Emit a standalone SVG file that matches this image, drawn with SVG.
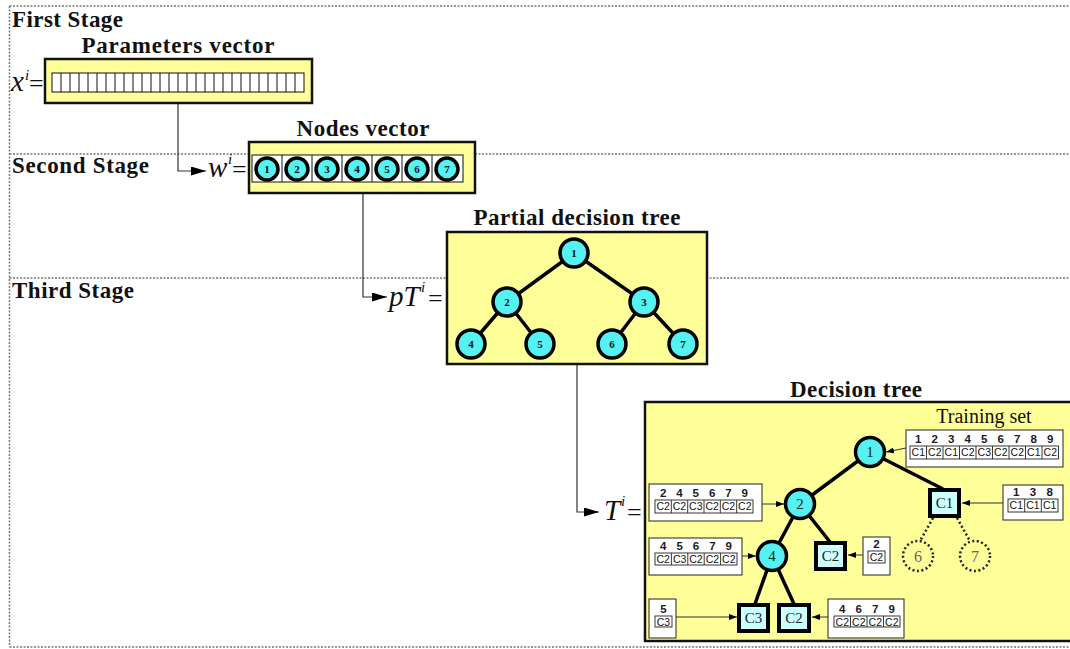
<svg xmlns="http://www.w3.org/2000/svg" width="1070" height="649" viewBox="0 0 1070 649">
  <style>
    .stage { font-family: "Liberation Serif", "Times New Roman", serif; font-weight: bold; font-size: 23px; fill: #111; }
    .title { font-family: "Liberation Serif", "Times New Roman", serif; font-weight: bold; font-size: 23px; fill: #111; text-anchor: middle; }
    .math { font-family: "Liberation Serif", "Times New Roman", serif; font-style: italic; font-size: 29px; fill: #111; }
    .eq { font-family: "Liberation Serif", "Times New Roman", serif; font-size: 26px; fill: #111; }
    .sup { font-family: "Liberation Serif", "Times New Roman", serif; font-style: italic; font-size: 15px; fill: #111; }
    .frame { fill: none; stroke: #777; stroke-width: 1.5; stroke-dasharray: 2 1.5; }
    .panel { fill: #FFFF99; stroke: #111; stroke-width: 2.5; }
    .cell { fill: #fff; stroke: #111; stroke-width: 1; }
    .node { fill: #55F2F2; stroke: #000; stroke-width: 3.5; }
    .leaf { fill: #CCFFFF; stroke: #000; stroke-width: 4; }
    .ghost { fill: none; stroke: #222; stroke-width: 2.5; stroke-dasharray: 2 2.5; }
    .nlabel { font-family: "Liberation Serif", "Times New Roman", serif; font-weight: bold; font-size: 11px; fill: #111; text-anchor: middle; }
    .tlabel { font-family: "Liberation Serif", "Times New Roman", serif; font-size: 15px; fill: #222; text-anchor: middle; }
    .glabel { font-family: "Liberation Serif", "Times New Roman", serif; font-size: 16px; fill: #666; text-anchor: middle; }
    .edge { stroke: #000; stroke-width: 3.5; fill: none; }
    .gedge { stroke: #222; stroke-width: 2.5; stroke-dasharray: 2 2.5; fill: none; }
    .conn { stroke: #333; stroke-width: 1.2; fill: none; }
    .feed { stroke: #333; stroke-width: 1; fill: none; }
    .tbl { fill: #fff; stroke: #222; stroke-width: 1; }
    .tcell { fill: #fff; stroke: #222; stroke-width: 0.9; }
    .hdr { font-family: "Liberation Sans", Arial, sans-serif; font-weight: bold; font-size: 11.5px; fill: #1a1a2e; text-anchor: middle; }
    .cls { font-family: "Liberation Sans", Arial, sans-serif; font-size: 10.5px; fill: #111; text-anchor: middle; }
    .caption { font-family: "Liberation Serif", "Times New Roman", serif; font-size: 20px; fill: #111; text-anchor: middle; }
  </style>
  <defs>
    <marker id="bigArrow" viewBox="0 0 15 9" refX="15" refY="4.5" markerWidth="15" markerHeight="9" markerUnits="userSpaceOnUse" orient="auto">
      <path d="M0,0 L15,4.5 L0,9 Z" fill="#000"/>
    </marker>
    <marker id="smallArrow" viewBox="0 0 8 6" refX="8" refY="3" markerWidth="8" markerHeight="6" markerUnits="userSpaceOnUse" orient="auto">
      <path d="M0,0 L8,3 L0,6 Z" fill="#000"/>
    </marker>
  </defs>

  <rect width="1070" height="649" fill="#fff"/>

  <!-- stage frame -->
  <g id="stages">
    <path class="frame" d="M9.5,6 H1072 M9.5,154 H1072 M9.5,278 H1072 M9.5,647 H1072 M9.5,6 V647"/>
    <text class="stage" x="12" y="27" textLength="111">First Stage</text>
    <text class="stage" x="12" y="173" textLength="137">Second Stage</text>
    <text class="stage" x="12" y="298" textLength="122">Third Stage</text>
  </g>

  <!-- connectors between stages -->
  <g id="connectors">
    <path class="conn" d="M178,103 V171 H206" marker-end="url(#bigArrow)"/>
    <path class="conn" d="M363,193 V297 H387" marker-end="url(#bigArrow)"/>
    <path class="conn" d="M577,364 V512 H599" marker-end="url(#bigArrow)"/>
  </g>

  <!-- parameters vector -->
  <g id="parameters-vector">
    <text class="title" x="178" y="53" textLength="193">Parameters vector</text>
    <text class="math" x="11" y="91">x</text>
    <text class="sup" x="25" y="80">i</text>
    <text class="eq" x="29" y="92">=</text>
    <rect class="panel" x="45" y="59" width="267" height="44"/>
    <rect class="cell" x="52" y="73" width="252" height="19"/>
    <path stroke="#111" stroke-width="1" d="M61,73v19M70,73v19M79,73v19M88,73v19M97,73v19M106,73v19M115,73v19M124,73v19M133,73v19M142,73v19M151,73v19M160,73v19M169,73v19M178,73v19M187,73v19M196,73v19M205,73v19M214,73v19M223,73v19M232,73v19M241,73v19M250,73v19M259,73v19M268,73v19M277,73v19M286,73v19M295,73v19"/>
  </g>

  <!-- nodes vector -->
  <g id="nodes-vector">
    <text class="title" x="363" y="136" textLength="133">Nodes vector</text>
    <text class="math" x="208" y="177">w</text>
    <text class="sup" x="228" y="164">i</text>
    <text class="eq" x="232" y="178">=</text>
    <rect class="panel" x="249" y="142" width="226" height="51"/>
    <rect class="cell" x="252" y="155" width="211" height="27"/>
    <path stroke="#111" stroke-width="1" d="M282,155v27M312,155v27M342,155v27M372,155v27M402,155v27M432,155v27"/>
    <circle class="node" cx="267" cy="169" r="11"/>
    <circle class="node" cx="297" cy="169" r="11"/>
    <circle class="node" cx="327" cy="169" r="11"/>
    <circle class="node" cx="357" cy="169" r="11"/>
    <circle class="node" cx="387" cy="169" r="11"/>
    <circle class="node" cx="417" cy="169" r="11"/>
    <circle class="node" cx="447" cy="169" r="11"/>
    <text class="nlabel" x="267" y="173">1</text>
    <text class="nlabel" x="297" y="173">2</text>
    <text class="nlabel" x="327" y="173">3</text>
    <text class="nlabel" x="357" y="173">4</text>
    <text class="nlabel" x="387" y="173">5</text>
    <text class="nlabel" x="417" y="173">6</text>
    <text class="nlabel" x="447" y="173">7</text>
  </g>

  <!-- partial decision tree -->
  <g id="partial-tree">
    <text class="title" x="577" y="225" textLength="207">Partial decision tree</text>
    <text class="math" x="389" y="306">pT</text>
    <text class="sup" x="421" y="292">i</text>
    <text class="eq" x="428" y="307">=</text>
    <rect class="panel" x="447" y="232" width="260" height="132"/>
    <path class="edge" d="M574,253 L507,302 M574,253 L644,302 M507,302 L471,344 M507,302 L540,344 M644,302 L612,344 M644,302 L683,344"/>
    <circle class="node" cx="574" cy="253" r="14"/>
    <circle class="node" cx="507" cy="302" r="14"/>
    <circle class="node" cx="644" cy="302" r="14"/>
    <circle class="node" cx="471" cy="344" r="14"/>
    <circle class="node" cx="540" cy="344" r="14"/>
    <circle class="node" cx="612" cy="344" r="14"/>
    <circle class="node" cx="683" cy="344" r="14"/>
    <text class="nlabel" x="574" y="257">1</text>
    <text class="nlabel" x="507" y="306">2</text>
    <text class="nlabel" x="644" y="306">3</text>
    <text class="nlabel" x="471" y="348">4</text>
    <text class="nlabel" x="540" y="348">5</text>
    <text class="nlabel" x="612" y="348">6</text>
    <text class="nlabel" x="683" y="348">7</text>
  </g>

  <!-- decision tree -->
  <g id="decision-tree">
    <text class="title" x="856" y="397" textLength="132">Decision tree</text>
    <text class="math" x="604" y="520">T</text>
    <text class="sup" x="621" y="506">i</text>
    <text class="eq" x="627" y="521">=</text>
    <rect class="panel" x="645" y="402" width="430" height="239"/>
    <text class="caption" x="984" y="423">Training set</text>

    <!-- tree edges -->
    <path class="edge" d="M870,452 L800,504 M870,452 L943,489 M800,504 L772,556 M800,504 L830,542 M772,556 L755,604 M772,556 L794,604"/>
    <path class="gedge" d="M933,518 L920,541 M957,518 L970,541"/>

    <!-- inner nodes -->
    <g id="dt-node-1"><circle class="node" cx="870" cy="452" r="14.5"/><text class="tlabel" x="870" y="457">1</text></g>
    <g id="dt-node-2"><circle class="node" cx="800" cy="504" r="14.5"/><text class="tlabel" x="800" y="509">2</text></g>
    <g id="dt-node-4"><circle class="node" cx="772" cy="556" r="14.5"/><text class="tlabel" x="772" y="561">4</text></g>

    <!-- leaves -->
    <g id="dt-leaf-3"><rect class="leaf" x="930" y="490" width="29" height="26"/><text class="tlabel" x="944.5" y="508">C1</text></g>
    <g id="dt-leaf-5"><rect class="leaf" x="816" y="543" width="29" height="26"/><text class="tlabel" x="830.5" y="561">C2</text></g>
    <g id="dt-leaf-8"><rect class="leaf" x="739" y="605" width="29" height="26"/><text class="tlabel" x="753.5" y="623">C3</text></g>
    <g id="dt-leaf-9"><rect class="leaf" x="779" y="605" width="30" height="26"/><text class="tlabel" x="794" y="623">C2</text></g>

    <!-- unused nodes -->
    <g id="dt-node-6"><circle class="ghost" cx="918" cy="556" r="15"/><text class="glabel" x="918" y="562">6</text></g>
    <g id="dt-node-7"><circle class="ghost" cx="975" cy="556" r="15"/><text class="glabel" x="975" y="562">7</text></g>

    <!-- data subsets feeding each node -->
    <g id="subset-root">
      <rect class="tbl" x="906" y="430" width="157" height="37"/>
      <path class="feed" d="M906,448 L886,452" marker-end="url(#smallArrow)"/>
      <rect class="tcell" x="910" y="446" width="148.5" height="13"/>
      <path stroke="#222" stroke-width="0.9" d="M926.5,446v13M943,446v13M959.5,446v13M976,446v13M992.5,446v13M1009,446v13M1025.5,446v13M1042,446v13"/>
      <text class="hdr" x="918.3" y="443">1</text><text class="hdr" x="934.8" y="443">2</text><text class="hdr" x="951.3" y="443">3</text>
      <text class="hdr" x="967.8" y="443">4</text><text class="hdr" x="984.3" y="443">5</text><text class="hdr" x="1000.8" y="443">6</text>
      <text class="hdr" x="1017.3" y="443">7</text><text class="hdr" x="1033.8" y="443">8</text><text class="hdr" x="1050.3" y="443">9</text>
      <text class="cls" x="918.3" y="456">C1</text><text class="cls" x="934.8" y="456">C2</text><text class="cls" x="951.3" y="456">C1</text>
      <text class="cls" x="967.8" y="456">C2</text><text class="cls" x="984.3" y="456">C3</text><text class="cls" x="1000.8" y="456">C2</text>
      <text class="cls" x="1017.3" y="456">C2</text><text class="cls" x="1033.8" y="456">C1</text><text class="cls" x="1050.3" y="456">C2</text>
    </g>

    <g id="subset-c1">
      <rect class="tbl" x="1003" y="485" width="60" height="35"/>
      <path class="feed" d="M1003,503 L962,503" marker-end="url(#smallArrow)"/>
      <rect class="tcell" x="1008" y="499" width="50" height="13"/>
      <path stroke="#222" stroke-width="0.9" d="M1024.7,499v13M1041.3,499v13"/>
      <text class="hdr" x="1016.3" y="496">1</text><text class="hdr" x="1033" y="496">3</text><text class="hdr" x="1049.7" y="496">8</text>
      <text class="cls" x="1016.3" y="509">C1</text><text class="cls" x="1033" y="509">C1</text><text class="cls" x="1049.7" y="509">C1</text>
    </g>

    <g id="subset-node-2">
      <rect class="tbl" x="649" y="484" width="113" height="37"/>
      <path class="feed" d="M762,504 L784,504" marker-end="url(#smallArrow)"/>
      <rect class="tcell" x="655" y="500" width="98" height="13"/>
      <path stroke="#222" stroke-width="0.9" d="M671.3,500v13M687.7,500v13M704,500v13M720.3,500v13M736.7,500v13"/>
      <text class="hdr" x="663.2" y="497">2</text><text class="hdr" x="679.5" y="497">4</text><text class="hdr" x="695.8" y="497">5</text>
      <text class="hdr" x="712.2" y="497">6</text><text class="hdr" x="728.5" y="497">7</text><text class="hdr" x="744.8" y="497">9</text>
      <text class="cls" x="663.2" y="510">C2</text><text class="cls" x="679.5" y="510">C2</text><text class="cls" x="695.8" y="510">C3</text>
      <text class="cls" x="712.2" y="510">C2</text><text class="cls" x="728.5" y="510">C2</text><text class="cls" x="744.8" y="510">C2</text>
    </g>

    <g id="subset-node-4">
      <rect class="tbl" x="649" y="538" width="93" height="37"/>
      <path class="feed" d="M742,556 L756,556" marker-end="url(#smallArrow)"/>
      <rect class="tcell" x="655" y="553" width="82" height="12"/>
      <path stroke="#222" stroke-width="0.9" d="M671.4,553v12M687.8,553v12M704.2,553v12M720.6,553v12"/>
      <text class="hdr" x="663.2" y="549.5">4</text><text class="hdr" x="679.6" y="549.5">5</text><text class="hdr" x="696" y="549.5">6</text>
      <text class="hdr" x="712.4" y="549.5">7</text><text class="hdr" x="728.8" y="549.5">9</text>
      <text class="cls" x="663.2" y="563">C2</text><text class="cls" x="679.6" y="563">C3</text><text class="cls" x="696" y="563">C2</text>
      <text class="cls" x="712.4" y="563">C2</text><text class="cls" x="728.8" y="563">C2</text>
    </g>

    <g id="subset-c2-mid">
      <rect class="tbl" x="863" y="537" width="27" height="38"/>
      <path class="feed" d="M863,555 L848,555" marker-end="url(#smallArrow)"/>
      <rect class="tcell" x="868" y="551" width="17" height="12"/>
      <text class="hdr" x="876.5" y="547.5">2</text>
      <text class="cls" x="876.5" y="561">C2</text>
    </g>

    <g id="subset-c3">
      <rect class="tbl" x="649" y="599" width="27" height="39"/>
      <path class="feed" d="M676,617 L737,617" marker-end="url(#smallArrow)"/>
      <rect class="tcell" x="655" y="616" width="17" height="11"/>
      <text class="hdr" x="663.5" y="612.5">5</text>
      <text class="cls" x="663.5" y="626">C3</text>
    </g>

    <g id="subset-c2-low">
      <rect class="tbl" x="828" y="599" width="76" height="39"/>
      <path class="feed" d="M828,617 L812,617" marker-end="url(#smallArrow)"/>
      <rect class="tcell" x="834" y="616" width="66" height="11"/>
      <path stroke="#222" stroke-width="0.9" d="M850.5,616v11M867,616v11M883.5,616v11"/>
      <text class="hdr" x="842.3" y="612.5">4</text><text class="hdr" x="858.8" y="612.5">6</text>
      <text class="hdr" x="875.3" y="612.5">7</text><text class="hdr" x="891.8" y="612.5">9</text>
      <text class="cls" x="842.3" y="626">C2</text><text class="cls" x="858.8" y="626">C2</text>
      <text class="cls" x="875.3" y="626">C2</text><text class="cls" x="891.8" y="626">C2</text>
    </g>
  </g>
</svg>
